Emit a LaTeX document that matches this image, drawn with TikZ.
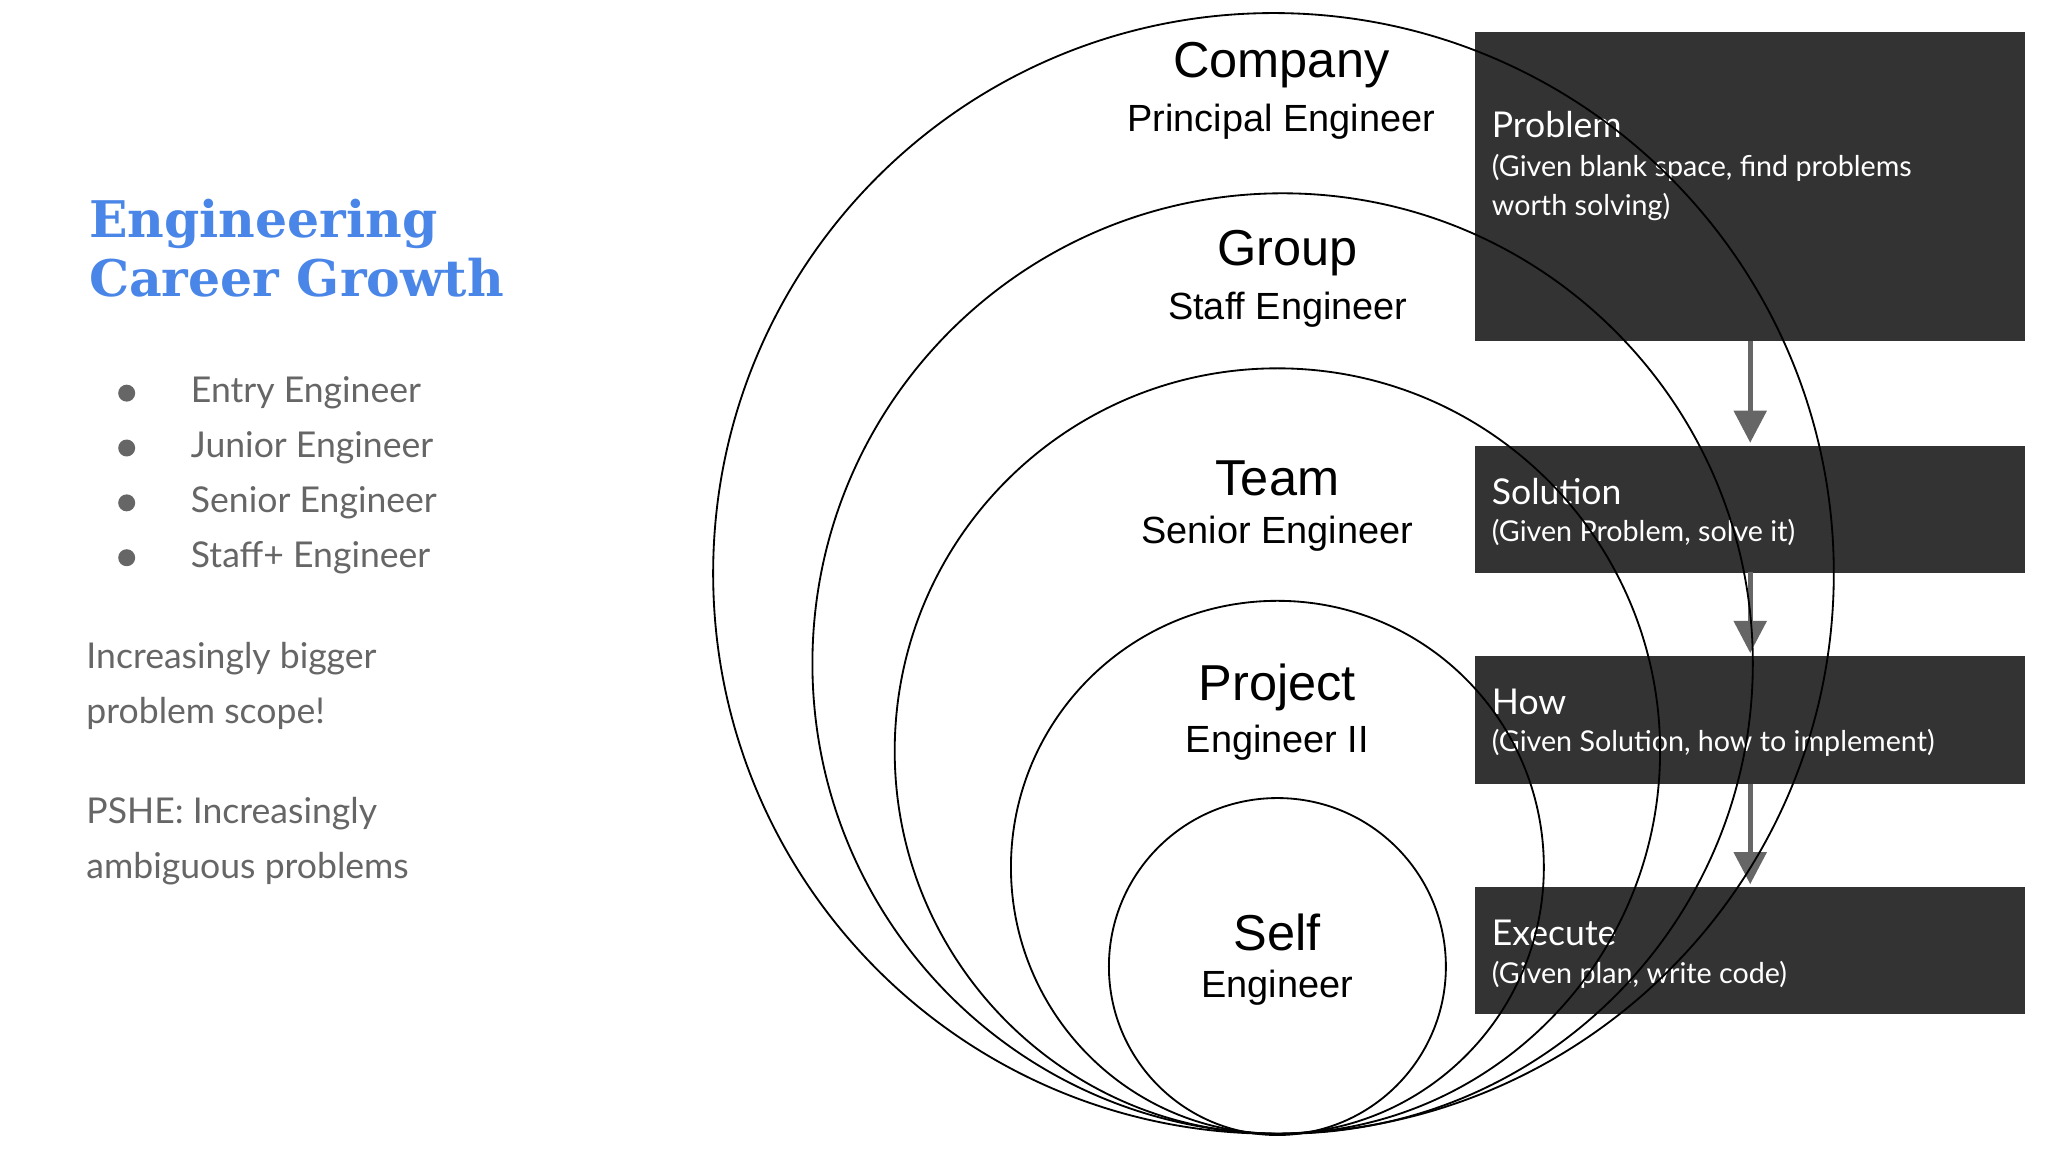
\documentclass[tikz,border=0pt]{standalone}
\usepackage{fontspec}
\setmainfont{Liberation Sans}
\newfontfamily\lato{Lato}
\newfontfamily\slab{DejaVu Serif}
\definecolor{boxc}{HTML}{333333}
\definecolor{txtg}{HTML}{666666}
\definecolor{ttl}{HTML}{4A86E8}
\definecolor{arr}{HTML}{666666}
\usetikzlibrary{arrows.meta}
\begin{document}
\begin{tikzpicture}[x=0.02cm,y=-0.02cm,
  circ/.style={draw=black,line width=0.8pt},
  box/.style={fill=boxc,draw=none},
  big/.style={font=\fontsize{22}{24}\selectfont},
  small/.style={font=\fontsize{16.5}{18}\selectfont},
  bt/.style={anchor=west,text=white,font=\lato\fontsize{15.5}{17}\selectfont},
  bs/.style={anchor=west,text=white,font=\lato\fontsize{12.5}{17}\selectfont,align=left},
  lt/.style={anchor=west,text=txtg,font=\lato\fontsize{15.5}{24}\selectfont,align=left},
  flow/.style={draw=arr,line width=2.2pt,-{Triangle[length=14pt,width=14pt]}}]
\useasboundingbox (0,0) rectangle (1568,882);
\fill[white] (0,0) rectangle (1568,882);
% boxes
\node[box,minimum width=421*0.02cm,minimum height=237*0.02cm,anchor=north west] (p) at (1129,24) {};
\node[box,minimum width=421*0.02cm,minimum height=97*0.02cm,anchor=north west] (s) at (1129,341) {};
\node[box,minimum width=421*0.02cm,minimum height=98*0.02cm,anchor=north west] (h) at (1129,502) {};
\node[box,minimum width=421*0.02cm,minimum height=97*0.02cm,anchor=north west] (e) at (1129,679) {};
\draw[flow] (1340,261) -- (1340,339);
\draw[flow] (1340,438) -- (1340,500);
\draw[flow] (1340,600) -- (1340,677);
\node[bt] (pt) at (1136,95) {Problem};
\node[bs,anchor=north west] (ps) at (1136,112) {(Given blank space, find problems\\worth solving)};
\node[bt] (st) at (1136,376) {Solution};
\node[bs] (ss) at (1136,408) {(Given Problem, solve it)};
\node[bt] (ht) at (1136,537) {How};
\node[bs] (hs) at (1136,569) {(Given Solution, how to implement)};
\node[bt] (et) at (1136,714) {Execute};
\node[bs] (es) at (1136,746) {(Given plan, write code)};
% circles
\draw[circ] (975,439) circle[radius=429];
\draw[circ] (982,508) circle[radius=360];
\draw[circ] (978,575) circle[radius=293];
\draw[circ] (978,664) circle[radius=204];
\draw[circ] (978,740) circle[radius=129];
\node[big] (c1) at (981,50) {Company};
\node[small] (c2) at (981,93) {Principal Engineer};
\node[big] (g1) at (986,194) {Group};
\node[small] (g2) at (986,237) {Staff Engineer};
\node[big] (t1) at (978,366) {Team};
\node[small] (t2) at (978,409) {Senior Engineer};
\node[big] (j1) at (978,526) {Project};
\node[small] (j2) at (978,569) {Engineer II};
\node[big] (f1) at (978,714) {Self};
\node[small] (f2) at (978,756) {Engineer};
% left text
\node[anchor=west,text=ttl,font=\slab\bfseries\fontsize{22}{26}\selectfont,align=left] (title) at (62,190) {Engineering\\Career Growth};
\foreach \y/\t [count=\i] in {301/Entry Engineer,343/Junior Engineer,385/Senior Engineer,427/Staff+ Engineer}{
  \fill[txtg] (97,\y) circle[radius=6.5];
  \node[lt] (b\i) at (140,\y) {\t};
}
\node[lt] (para1) at (60,525) {Increasingly bigger\\problem scope!};
\node[lt] (para2) at (60,644) {PSHE: Increasingly\\ambiguous problems};
\end{tikzpicture}
\end{document}
